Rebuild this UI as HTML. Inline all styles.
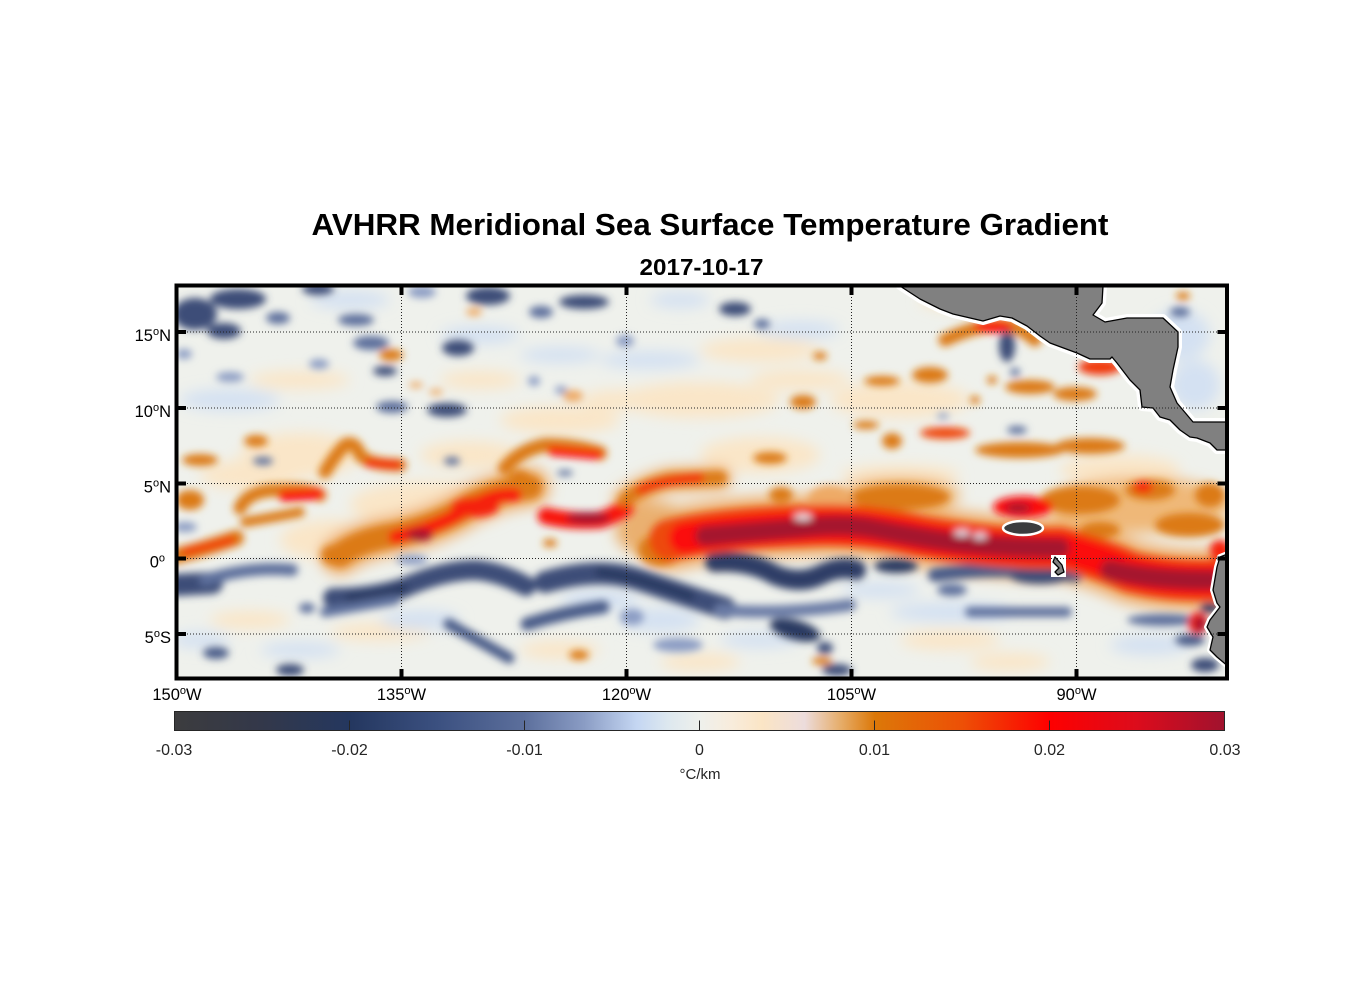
<!DOCTYPE html>
<html><head><meta charset="utf-8"><style>html,body{margin:0;padding:0;background:#fff}svg{display:block}</style></head>
<body>
<svg width="1356" height="1000" viewBox="0 0 1356 1000" xmlns="http://www.w3.org/2000/svg" font-family="'Liberation Sans', Arial, sans-serif">
<defs>
<clipPath id="mc"><rect x="176.5" y="285.5" width="1050.5" height="393"/></clipPath>
<filter id="b" x="-5%" y="-10%" width="110%" height="120%"><feGaussianBlur stdDeviation="4"/></filter>
<filter id="b2" x="-5%" y="-10%" width="110%" height="120%"><feGaussianBlur stdDeviation="7"/></filter>
<linearGradient id="cb" x1="0" x2="1" y1="0" y2="0">
<stop offset="0" stop-color="#3c3c3e"/>
<stop offset="0.083" stop-color="#33384a"/>
<stop offset="0.167" stop-color="#24375f"/>
<stop offset="0.25" stop-color="#3b5080"/>
<stop offset="0.333" stop-color="#5c6f9c"/>
<stop offset="0.39" stop-color="#8a9cc4"/>
<stop offset="0.44" stop-color="#c4d6f2"/>
<stop offset="0.47" stop-color="#dde8ef"/>
<stop offset="0.5" stop-color="#eef0ec"/>
<stop offset="0.53" stop-color="#f8ecdc"/>
<stop offset="0.56" stop-color="#fbe5c5"/>
<stop offset="0.6" stop-color="#ecdcdc"/>
<stop offset="0.635" stop-color="#e6ac68"/>
<stop offset="0.667" stop-color="#dc7808"/>
<stop offset="0.75" stop-color="#ed5006"/>
<stop offset="0.833" stop-color="#fe0000"/>
<stop offset="0.917" stop-color="#dc0c1c"/>
<stop offset="1" stop-color="#a0122e"/>
</linearGradient>
</defs>
<rect width="1356" height="1000" fill="#fff"/>

<text x="311.5" y="235" font-size="31" font-weight="bold" textLength="797" lengthAdjust="spacingAndGlyphs" fill="#000">AVHRR Meridional Sea Surface Temperature Gradient</text>
<text x="639.5" y="275" font-size="23" font-weight="bold" textLength="124" lengthAdjust="spacingAndGlyphs" fill="#000">2017-10-17</text>

<g clip-path="url(#mc)">
<rect x="170" y="280" width="1065" height="405" fill="#eff1ec"/>
<g filter="url(#b2)">
<g fill="#fae6c8">
<ellipse cx="300" cy="455" rx="60" ry="22"/>
<ellipse cx="470" cy="455" rx="50" ry="14"/>
<ellipse cx="560" cy="420" rx="60" ry="14"/>
<ellipse cx="700" cy="400" rx="80" ry="18"/>
<ellipse cx="760" cy="455" rx="60" ry="18"/>
<ellipse cx="900" cy="400" rx="70" ry="18"/>
<ellipse cx="960" cy="300" rx="40" ry="10"/>
<ellipse cx="480" cy="380" rx="40" ry="9"/>
<ellipse cx="300" cy="380" rx="50" ry="9"/>
<ellipse cx="250" cy="620" rx="40" ry="9"/>
<ellipse cx="380" cy="632" rx="50" ry="9"/>
<ellipse cx="560" cy="650" rx="40" ry="9"/>
<ellipse cx="700" cy="662" rx="40" ry="9"/>
<ellipse cx="950" cy="640" rx="50" ry="10"/>
<ellipse cx="1010" cy="662" rx="40" ry="9"/>
<ellipse cx="430" cy="505" rx="80" ry="24"/>
<ellipse cx="900" cy="475" rx="60" ry="10"/>
<ellipse cx="620" cy="400" rx="40" ry="10"/>
<ellipse cx="1120" cy="470" rx="60" ry="15"/>
<ellipse cx="330" cy="540" rx="50" ry="20"/>
<ellipse cx="800" cy="380" rx="50" ry="10"/>
<ellipse cx="250" cy="475" rx="50" ry="15"/>
<ellipse cx="760" cy="350" rx="60" ry="12"/>
</g>
<g fill="#d4e1f2">
<ellipse cx="230" cy="400" rx="50" ry="11"/>
<ellipse cx="350" cy="300" rx="40" ry="9"/>
<ellipse cx="480" cy="335" rx="40" ry="9"/>
<ellipse cx="650" cy="360" rx="50" ry="9"/>
<ellipse cx="800" cy="330" rx="40" ry="9"/>
<ellipse cx="680" cy="300" rx="30" ry="8"/>
<ellipse cx="600" cy="600" rx="40" ry="10"/>
<ellipse cx="950" cy="612" rx="60" ry="10"/>
<ellipse cx="1150" cy="645" rx="40" ry="10"/>
<ellipse cx="300" cy="650" rx="40" ry="8"/>
<ellipse cx="1180" cy="335" rx="30" ry="25"/>
<ellipse cx="1195" cy="385" rx="25" ry="25"/>
<ellipse cx="880" cy="590" rx="40" ry="8"/>
<ellipse cx="200" cy="640" rx="30" ry="8"/>
<ellipse cx="560" cy="355" rx="40" ry="8"/>
<ellipse cx="760" cy="640" rx="40" ry="8"/>
<ellipse cx="420" cy="620" rx="40" ry="10"/>
<ellipse cx="660" cy="620" rx="40" ry="12"/>
</g>
<g fill="none" stroke="#efb070" stroke-linecap="round">
<path d="M340,555 Q360,540 395,535 Q440,525 470,505 Q500,490 530,487" stroke-width="40"/>
<path d="M670,540 Q720,528 800,526 Q860,522 920,536 Q1000,550 1060,548 Q1100,558 1130,572 Q1170,582 1220,580" stroke-width="62"/>
<path d="M625,500 Q645,485 670,480 L720,478" stroke-width="24"/>
</g>
<ellipse cx="1140" cy="505" rx="90" ry="28" fill="#efb878"/>
<ellipse cx="900" cy="495" rx="60" ry="18" fill="#efb878"/>
<ellipse cx="655" cy="530" rx="40" ry="28" fill="#eab070"/>
</g>

<g filter="url(#b)">
<g fill="#3c4d78">
<ellipse cx="195" cy="314" rx="22" ry="16"/>
<ellipse cx="238" cy="299" rx="28" ry="10"/>
<ellipse cx="224" cy="331" rx="17" ry="8"/>
<ellipse cx="318" cy="289" rx="16" ry="6"/>
<ellipse cx="385" cy="371" rx="12" ry="5"/>
<ellipse cx="488" cy="296" rx="22" ry="9"/>
<ellipse cx="584" cy="302" rx="25" ry="7"/>
<ellipse cx="458" cy="348" rx="16" ry="8"/>
<ellipse cx="447" cy="410" rx="20" ry="7"/>
<ellipse cx="735" cy="309" rx="16" ry="7"/>
<ellipse cx="1007" cy="346" rx="8" ry="16"/>
</g>
<g fill="#5d6f9c">
<ellipse cx="278" cy="318" rx="12" ry="6"/>
<ellipse cx="356" cy="320" rx="18" ry="6"/>
<ellipse cx="371" cy="343" rx="18" ry="7"/>
<ellipse cx="541" cy="312" rx="12" ry="6"/>
<ellipse cx="392" cy="407" rx="16" ry="6"/>
<ellipse cx="762" cy="324" rx="8" ry="5"/>
<ellipse cx="1015" cy="372" rx="5" ry="4"/>
<ellipse cx="1180" cy="312" rx="10" ry="5"/>
<ellipse cx="263" cy="461" rx="10" ry="4"/>
<ellipse cx="452" cy="461" rx="8" ry="4"/>
<ellipse cx="565" cy="473" rx="8" ry="3"/>
<ellipse cx="1017" cy="430" rx="10" ry="4"/>
</g>
<g fill="#8c9dc4">
<ellipse cx="319" cy="364" rx="10" ry="5"/>
<ellipse cx="422" cy="292" rx="14" ry="6"/>
<ellipse cx="184" cy="354" rx="8" ry="5"/>
<ellipse cx="534" cy="381" rx="6" ry="5"/>
<ellipse cx="561" cy="390" rx="6" ry="4"/>
<ellipse cx="625" cy="341" rx="9" ry="6"/>
<ellipse cx="943" cy="416" rx="6" ry="3"/>
<ellipse cx="185" cy="527" rx="12" ry="5"/>
<ellipse cx="412" cy="560" rx="16" ry="5"/>
<ellipse cx="678" cy="645" rx="25" ry="7"/>
<ellipse cx="632" cy="617" rx="12" ry="8"/>
<ellipse cx="230" cy="377" rx="14" ry="5"/>
</g>
<g fill="none" stroke-linecap="round">
<path d="M176,585 L212,583" stroke="#3c4d78" stroke-width="22"/>
<path d="M205,580 Q250,566 292,570" stroke="#5d6f9c" stroke-width="12"/>
<path d="M333,598 Q370,598 403,588 Q443,570 476,570 Q500,572 526,586" stroke="#3c4d78" stroke-width="20"/>
<path d="M350,598 Q380,596 403,588" stroke="#2a3a62" stroke-width="10"/>
<path d="M325,612 Q360,606 395,600" stroke="#5d6f9c" stroke-width="10"/>
<path d="M545,582 Q600,566 640,580 Q690,597 725,608" stroke="#3c4d78" stroke-width="22"/>
<path d="M600,572 Q640,578 690,596" stroke="#2a3a62" stroke-width="10"/>
<path d="M527,624 Q565,612 603,607" stroke="#4a5c88" stroke-width="13"/>
<path d="M449,624 L509,658" stroke="#4a5c88" stroke-width="11"/>
<path d="M715,562 Q750,560 775,575 Q800,585 820,575 Q840,565 856,570" stroke="#2d3d66" stroke-width="20"/>
<path d="M935,575 Q1000,565 1075,575" stroke="#4a5c88" stroke-width="14"/>
<path d="M970,612 L1067,612" stroke="#5d6f9c" stroke-width="10"/>
<path d="M720,610 Q780,615 850,605" stroke="#6a7ca6" stroke-width="12"/>
</g>
<ellipse cx="896" cy="566" rx="22" ry="7" fill="#2a3a62"/>
<ellipse cx="795" cy="630" rx="26" ry="10" transform="rotate(15 795 630)" fill="#2a3a62"/>
<ellipse cx="825" cy="648" rx="8" ry="6" fill="#3c4d78"/>
<ellipse cx="837" cy="670" rx="15" ry="6" fill="#3c4d78"/>
<ellipse cx="1163" cy="620" rx="36" ry="6" fill="#5d6f9c"/>
<ellipse cx="1190" cy="640" rx="15" ry="6" fill="#4a5c88"/>
<ellipse cx="1205" cy="665" rx="14" ry="7" fill="#3c4d78"/>
<ellipse cx="1210" cy="608" rx="10" ry="5" fill="#2a3a62"/>
<ellipse cx="952" cy="590" rx="15" ry="6" fill="#5d6f9c"/>
<ellipse cx="290" cy="670" rx="14" ry="6" fill="#3c4d78"/>
<ellipse cx="216" cy="653" rx="13" ry="6" fill="#4a5c88"/>
<ellipse cx="307" cy="608" rx="8" ry="5" fill="#5d6f9c"/>
<ellipse cx="1040" cy="576" rx="30" ry="8" fill="#3c4d78"/>

<g fill="#dc7a12">
<ellipse cx="200" cy="460" rx="18" ry="6"/>
<ellipse cx="256" cy="441" rx="12" ry="6"/>
<ellipse cx="190" cy="500" rx="14" ry="10"/>
<ellipse cx="520" cy="482" rx="12" ry="12"/>
<ellipse cx="660" cy="550" rx="22" ry="16"/>
<ellipse cx="333" cy="555" rx="12" ry="10"/>
<ellipse cx="550" cy="543" rx="7" ry="4"/>
<ellipse cx="579" cy="655" rx="10" ry="5"/>
<ellipse cx="900" cy="497" rx="50" ry="13"/>
<ellipse cx="781" cy="495" rx="12" ry="8"/>
<ellipse cx="770" cy="458" rx="17" ry="6"/>
<ellipse cx="1020" cy="450" rx="45" ry="8"/>
<ellipse cx="866" cy="425" rx="13" ry="4"/>
<ellipse cx="892" cy="441" rx="10" ry="8"/>
<ellipse cx="1080" cy="500" rx="40" ry="14"/>
<ellipse cx="1150" cy="490" rx="25" ry="10"/>
<ellipse cx="1190" cy="525" rx="35" ry="12"/>
<ellipse cx="1210" cy="495" rx="15" ry="12"/>
<ellipse cx="1100" cy="530" rx="20" ry="8"/>
<ellipse cx="1030" cy="387" rx="25" ry="7"/>
<ellipse cx="1075" cy="394" rx="22" ry="7"/>
<ellipse cx="882" cy="381" rx="18" ry="5"/>
<ellipse cx="930" cy="375" rx="18" ry="8"/>
<ellipse cx="803" cy="402" rx="13" ry="7"/>
<ellipse cx="820" cy="356" rx="7" ry="4"/>
<ellipse cx="975" cy="400" rx="5" ry="4"/>
<ellipse cx="992" cy="380" rx="5" ry="4"/>
<ellipse cx="1090" cy="446" rx="35" ry="8"/>
<ellipse cx="391" cy="355" rx="12" ry="6"/>
<ellipse cx="1183" cy="296" rx="7" ry="4"/>
<ellipse cx="822" cy="661" rx="10" ry="4"/>
</g>
<g fill="#eeaa66">
<ellipse cx="474" cy="312" rx="8" ry="4"/>
<ellipse cx="416" cy="385" rx="7" ry="3"/>
<ellipse cx="436" cy="392" rx="7" ry="3"/>
<ellipse cx="573" cy="396" rx="10" ry="6"/>
<ellipse cx="830" cy="500" rx="22" ry="15"/>
</g>
<g fill="none" stroke-linecap="round">
<path d="M176,556 Q200,550 236,538" stroke="#dc7a12" stroke-width="16"/>
<path d="M185,552 Q210,546 232,540" stroke="#f33a08" stroke-width="8"/>
<path d="M240,508 Q248,490 280,490 Q310,488 320,495" stroke="#dc7a12" stroke-width="13"/>
<path d="M245,522 Q270,518 300,512" stroke="#dc7a12" stroke-width="10"/>
<path d="M284,496 L318,494" stroke="#fb1008" stroke-width="11"/>
<path d="M325,472 Q335,455 345,445 Q355,440 360,455 Q370,465 400,465" stroke="#dc7a12" stroke-width="13"/>
<path d="M368,463 L398,465" stroke="#f5200a" stroke-width="8"/>
<path d="M340,555 Q360,540 395,535 Q440,525 470,505 Q500,490 530,487" stroke="#dc7a12" stroke-width="24"/>
<path d="M395,537 Q440,527 470,507 Q495,493 515,495" stroke="#f81408" stroke-width="13"/>
<path d="M505,468 Q520,450 545,445 Q575,445 600,453" stroke="#dc7a12" stroke-width="14"/>
<path d="M552,451 L598,455" stroke="#fb1008" stroke-width="9"/>
<path d="M546,516 Q570,522 600,520 Q615,515 625,508" stroke="#f81408" stroke-width="17"/>
<path d="M625,500 Q645,485 670,480 L720,478" stroke="#dc7a12" stroke-width="14"/>
<path d="M640,490 Q660,480 700,478" stroke="#f5200a" stroke-width="8"/>
<path d="M945,340 Q970,328 995,325 Q1015,322 1035,340" stroke="#dc7a12" stroke-width="13"/>
<path d="M670,540 Q720,528 800,526 Q860,522 920,536 Q1000,550 1060,548 Q1100,558 1130,572 Q1170,582 1220,580" stroke="#ed4a0a" stroke-width="42"/>
<path d="M685,538 Q730,530 800,527 Q860,523 920,537 Q1000,550 1060,548 Q1100,558 1130,572 Q1170,582 1220,580" stroke="#fb1008" stroke-width="32"/>
<path d="M705,536 Q760,531 800,528 Q840,523 870,528 Q920,538 960,543 Q1010,548 1060,548" stroke="#a5142e" stroke-width="20"/>
<path d="M1110,570 Q1150,580 1212,580" stroke="#a5142e" stroke-width="20"/>
</g>
<ellipse cx="420" cy="535" rx="13" ry="6" fill="#a5142e"/>
<ellipse cx="475" cy="507" rx="24" ry="10" fill="#f5200a"/>
<ellipse cx="588" cy="518" rx="22" ry="6" fill="#a5142e"/>
<ellipse cx="1023" cy="507" rx="30" ry="11" fill="#fb1008"/>
<ellipse cx="1018" cy="508" rx="13" ry="5" fill="#a5142e"/>
<ellipse cx="993" cy="327" rx="20" ry="6" fill="#f81408"/>
<ellipse cx="1100" cy="367" rx="22" ry="8" fill="#f03a0a"/>
<ellipse cx="945" cy="433" rx="25" ry="6" fill="#ef4a0a"/>
<ellipse cx="1143" cy="487" rx="10" ry="6" fill="#f5200a"/>
<ellipse cx="1198" cy="623" rx="10" ry="11" fill="#f5200a"/>
<ellipse cx="1200" cy="624" rx="6" ry="8" fill="#a5142e"/>
<ellipse cx="1220" cy="550" rx="10" ry="10" fill="#f5200a"/>
<ellipse cx="803" cy="517" rx="9" ry="3" fill="#e8eef2"/>
<ellipse cx="962" cy="533" rx="8" ry="3" fill="#dfe8f2"/>
<ellipse cx="980" cy="536" rx="7" ry="3" fill="#dfe8f2"/>
</g>

<ellipse cx="1023" cy="528" rx="20" ry="7" fill="#3b3b3e" stroke="#fff" stroke-width="2.5"/>

<g stroke="#fff" stroke-width="8" stroke-linejoin="round" fill="#fff">
<path d="M900,286 L1103,286 L1102,303 L1093,315 L1105,322 L1127,318 L1163,318 L1178,332 L1178,347 L1173,370 L1170,387 L1177,403 L1193,422 L1230,422 L1230,450 L1217,450 L1210,443 L1197,438 L1190,437 L1180,430 L1170,420 L1160,417 L1153,408 L1142,407 L1140,390 L1130,380 L1117,363 L1112,357 L1110,359 L1090,359 L1077,353 L1050,343 L1040,336 L1027,326 L1012,318 L1000,316 L983,321 L953,314 L940,309 L920,299 Z"/>
</g>
<path d="M1230,553 L1220,557 L1217,567 L1213,590 L1217,603 L1220,607 L1210,620 L1207,627 L1213,637 L1210,650 L1217,657 L1223,662 L1230,668 Z" fill="#fff" stroke="#fff" stroke-width="6" stroke-linejoin="round"/>
<rect x="1051" y="555" width="15" height="22" fill="#fff"/>
<g fill="#808080" stroke="#000" stroke-width="1.3" stroke-linejoin="round">
<path d="M900,286 L1103,286 L1102,303 L1093,315 L1105,322 L1127,318 L1163,318 L1178,332 L1178,347 L1173,370 L1170,387 L1177,403 L1193,422 L1230,422 L1230,450 L1217,450 L1210,443 L1197,438 L1190,437 L1180,430 L1170,420 L1160,417 L1153,408 L1142,407 L1140,390 L1130,380 L1117,363 L1112,357 L1110,359 L1090,359 L1077,353 L1050,343 L1040,336 L1027,326 L1012,318 L1000,316 L983,321 L953,314 L940,309 L920,299 Z"/>
<path d="M1230,553 L1220,557 L1217,567 L1213,590 L1217,603 L1220,607 L1210,620 L1207,627 L1213,637 L1210,650 L1217,657 L1223,662 L1230,668 Z"/>
<path d="M1055,557 L1062,565 L1064,572 L1058,575 L1055,572 L1059,568 L1053,562 Z"/>
</g>
</g>

<g stroke="#222" stroke-width="1" stroke-dasharray="1 2" fill="none">
<line x1="178" y1="332" x2="1225" y2="332"/>
<line x1="178" y1="408" x2="1225" y2="408"/>
<line x1="178" y1="483.5" x2="1225" y2="483.5"/>
<line x1="178" y1="558.5" x2="1225" y2="558.5"/>
<line x1="178" y1="634" x2="1225" y2="634"/>
<line x1="401.5" y1="288" x2="401.5" y2="677"/>
<line x1="626.5" y1="288" x2="626.5" y2="677"/>
<line x1="851.5" y1="288" x2="851.5" y2="677"/>
<line x1="1076.5" y1="288" x2="1076.5" y2="677"/>
</g>
<rect x="176.5" y="285.5" width="1050.5" height="393" fill="none" stroke="#000" stroke-width="4"/>
<g fill="#000">
<rect x="176" y="330" width="10" height="4"/>
<rect x="176" y="406" width="10" height="4"/>
<rect x="176" y="481.5" width="10" height="4"/>
<rect x="176" y="556.5" width="10" height="4"/>
<rect x="176" y="632" width="10" height="4"/>
<rect x="1217.5" y="330" width="10" height="4"/>
<rect x="1217.5" y="406" width="10" height="4"/>
<rect x="1217.5" y="481.5" width="10" height="4"/>
<rect x="1217.5" y="556.5" width="10" height="4"/>
<rect x="1217.5" y="632" width="10" height="4"/>
<rect x="399.5" y="285" width="4" height="10"/>
<rect x="624.5" y="285" width="4" height="10"/>
<rect x="849.5" y="285" width="4" height="10"/>
<rect x="1074.5" y="285" width="4" height="10"/>
<rect x="399.5" y="669" width="4" height="10"/>
<rect x="624.5" y="669" width="4" height="10"/>
<rect x="849.5" y="669" width="4" height="10"/>
<rect x="1074.5" y="669" width="4" height="10"/>
</g>

<g font-size="16.5" fill="#000" text-anchor="end">
<text x="171" y="341">15<tspan font-size="11" dy="-6">o</tspan><tspan dy="6">N</tspan></text>
<text x="171" y="417">10<tspan font-size="11" dy="-6">o</tspan><tspan dy="6">N</tspan></text>
<text x="171" y="492.5">5<tspan font-size="11" dy="-6">o</tspan><tspan dy="6">N</tspan></text>
<text x="165" y="567.5">0<tspan font-size="11" dy="-6">o</tspan></text>
<text x="171" y="643">5<tspan font-size="11" dy="-6">o</tspan><tspan dy="6">S</tspan></text>
</g>
<g font-size="16.5" fill="#000" text-anchor="middle">
<text x="177" y="700">150<tspan font-size="11" dy="-6">o</tspan><tspan dy="6">W</tspan></text>
<text x="401.5" y="700">135<tspan font-size="11" dy="-6">o</tspan><tspan dy="6">W</tspan></text>
<text x="626.5" y="700">120<tspan font-size="11" dy="-6">o</tspan><tspan dy="6">W</tspan></text>
<text x="851.5" y="700">105<tspan font-size="11" dy="-6">o</tspan><tspan dy="6">W</tspan></text>
<text x="1076.5" y="700">90<tspan font-size="11" dy="-6">o</tspan><tspan dy="6">W</tspan></text>
</g>

<rect x="174.5" y="711.5" width="1050" height="19" fill="url(#cb)" stroke="#262626" stroke-width="1"/>
<g stroke="#262626" stroke-width="1">
<line x1="349.5" y1="720.5" x2="349.5" y2="730.5"/>
<line x1="524.5" y1="720.5" x2="524.5" y2="730.5"/>
<line x1="699.5" y1="720.5" x2="699.5" y2="730.5"/>
<line x1="874.5" y1="720.5" x2="874.5" y2="730.5"/>
<line x1="1049.5" y1="720.5" x2="1049.5" y2="730.5"/>
</g>
<g font-size="16" fill="#262626" text-anchor="middle">
<text x="174" y="755">-0.03</text>
<text x="349.5" y="755">-0.02</text>
<text x="524.5" y="755">-0.01</text>
<text x="699.5" y="755">0</text>
<text x="874.5" y="755">0.01</text>
<text x="1049.5" y="755">0.02</text>
<text x="1225" y="755">0.03</text>
<text x="700" y="779" font-size="15">°C/km</text>
</g>
</svg>
</body></html>
